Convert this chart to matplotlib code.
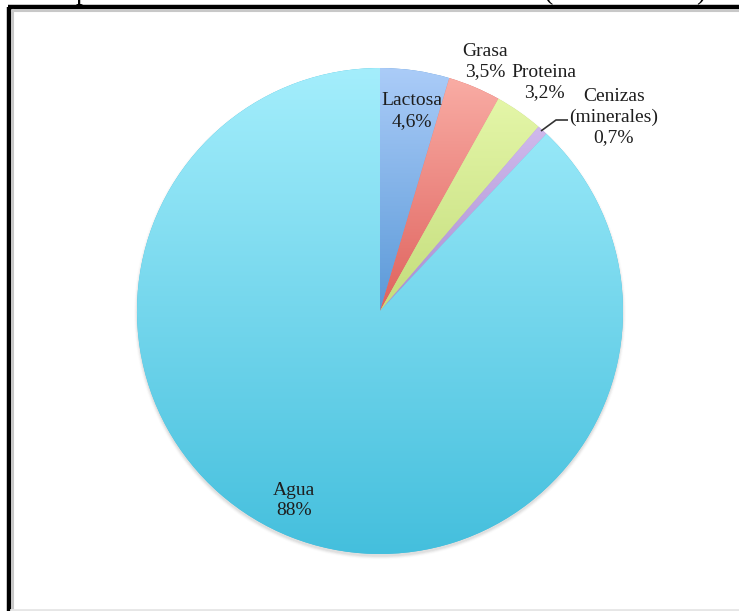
import numpy as np
import matplotlib
matplotlib.use("Agg")
import matplotlib.pyplot as plt
from matplotlib.colors import LinearSegmentedColormap
from matplotlib.patches import Circle

# Composition of cow's milk (%)
categories = ["Lactosa", "Grasa", "Proteina", "Cenizas\n(minerales)", "Agua"]
values = [4.6, 3.5, 3.2, 0.7, 88.0]
value_labels = ["4,6%", "3,5%", "3,2%", "0,7%", "88%"]

# gradient colours per slice (top, bottom)
grad_colors = [
    ("#abccf8", "#5a99d8"),
    ("#f9aca4", "#df625d"),
    ("#e4f6a8", "#c4dd7c"),
    ("#d0b9ec", "#a98fd2"),
    ("#a4eefc", "#44bfdd"),
]

W, H = 739, 611
fig = plt.figure(figsize=(W / 100, H / 100), dpi=100)
ax = fig.add_axes([0, 0, 1, 1])

cx, cy, R = 380, H - 311, 243

# soft drop shadow under the pie
for i, a in enumerate(np.linspace(0.05, 0.012, 6)):
    ax.add_patch(Circle((cx, cy - 2.5), R + 0.6 * i, color="#555555",
                        alpha=a, lw=0, zorder=1))

wedges, _ = ax.pie(values, startangle=90, counterclock=False,
                   center=(cx, cy), radius=R, frame=True,
                   wedgeprops=dict(linewidth=0, zorder=2))

# vertical gradient fill for every slice, clipped to its wedge
for w, (ctop, cbot) in zip(wedges, grad_colors):
    w.set_facecolor(cbot)
    verts = w.get_path().vertices
    y0, y1 = verts[:, 1].min(), verts[:, 1].max()
    x0, x1 = verts[:, 0].min(), verts[:, 0].max()
    cmap = LinearSegmentedColormap.from_list("g", [cbot, ctop])
    grad = np.linspace(0, 1, 256).reshape(-1, 1)
    im = ax.imshow(grad, cmap=cmap, extent=(x0, x1, y0, y1), origin="lower",
                   aspect="auto", zorder=3, interpolation="bicubic")
    im.set_clip_path(w)

ax.set_xlim(0, W)
ax.set_ylim(0, H)
ax.set_aspect("equal")
ax.axis("off")

serif = ["Liberation Serif", "DejaVu Serif"]
txt_kw = dict(family=serif, fontsize=14, color="#1e1e1e", ha="center",
              va="center", linespacing=1.27, zorder=5)

label_pos = [(412, 111), (485, 61.5), (544, 82.5), (614, 117), (294, 500.5)]
for name, val, (lx, ly) in zip(categories, value_labels, label_pos):
    ax.text(lx, H - ly, f"{name}\n{val}", **txt_kw)

# leader line for the smallest slice
ax.plot([541, 556, 568], [H - 131, H - 120, H - 120], color="#333333",
        lw=1.2, zorder=5, solid_capstyle="butt")

# frame around the chart
ax.plot([9, 9], [0, H - 7], color="#000000", lw=3.2, zorder=6,
        solid_capstyle="butt")
ax.plot([7.5, W], [H - 7, H - 7], color="#000000", lw=3.2, zorder=6,
        solid_capstyle="butt")
ax.plot([12.5, 12.5], [0, H - 10], color="#c8c8c8", lw=1.5, zorder=6)
ax.plot([12, W], [H - 10.5, H - 10.5], color="#c8c8c8", lw=1.5, zorder=6)
ax.plot([11, W], [1, 1], color="#e6e6e6", lw=2, zorder=6)

# heading above the frame (only its lower edge falls inside the canvas)
fig.text(22 / W, 1 + 1.5 / H,
         "Composición media de la leche de vaca entera (valores en %)",
         family=serif, fontsize=20.0, color="#000000", ha="left",
         va="baseline")

fig.savefig("out.png", dpi=100)
